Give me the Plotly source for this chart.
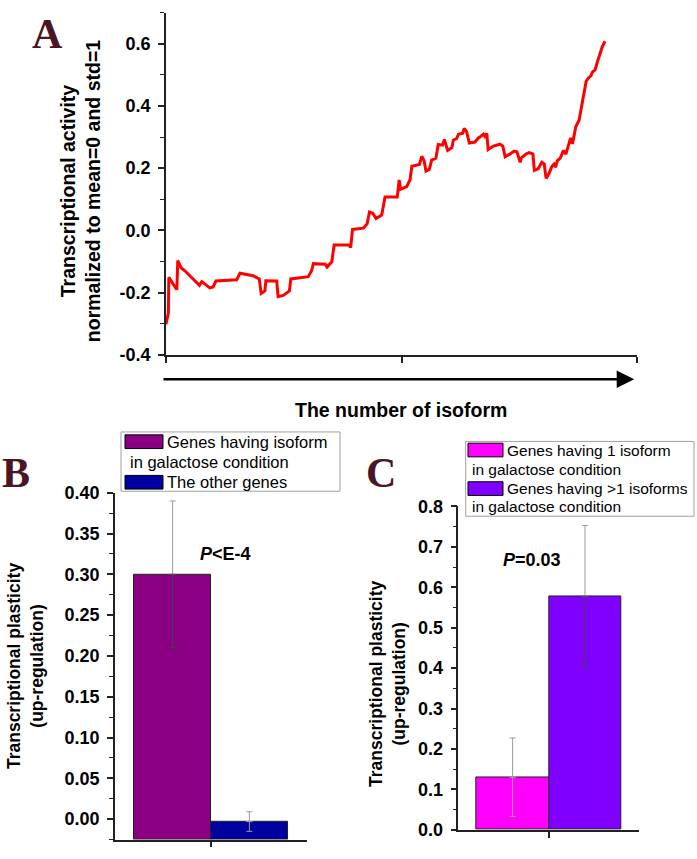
import plotly.graph_objects as go

# ---------------- data ----------------
# Panel A: transcriptional activity vs. isoform number (x in % of axis length)
A_X = [0, 0.5, 0.6, 1.9, 2.3, 2.5, 3.2, 4.0, 5.1, 5.8, 7.1, 7.6, 8.3, 9.3, 10.0, 10.4, 10.6,
       15.0, 15.7, 18.5, 19.8, 20.2, 21.0, 21.2, 23.5, 23.8, 24.9, 26.2, 26.5, 30.2, 30.9,
       31.3, 33.8, 34.2, 35.2, 35.7, 38.9, 39.2, 39.6, 41.9, 42.7, 43.2, 43.9, 44.6, 45.8,
       46.5, 49.1, 49.5, 49.8, 51.1, 51.8, 52.2, 53.8, 54.3, 54.8, 55.2, 55.9, 56.4, 57.3,
       57.8, 58.7, 59.1, 59.4, 59.8, 60.7, 61.0, 61.7, 62.1, 63.0, 63.3, 63.8, 64.4, 65.6,
       66.3, 66.8, 67.4, 67.7, 68.1, 68.4, 69.5, 70.9, 71.5, 72.0, 73.0, 73.9, 74.5, 75.2,
       75.5, 76.6, 77.1, 77.9, 78.2, 79.0, 79.8, 80.3, 80.7, 81.3, 81.9, 82.4, 82.7, 83.1,
       83.7, 84.4, 84.9, 85.4, 85.9, 86.3, 87.0, 87.7, 88.3, 88.7, 89.2, 89.7, 90.2, 90.6,
       91.1, 91.6, 92.1, 92.6, 93.2]
A_Y = [-0.302, -0.266, -0.151, -0.182, -0.191, -0.097, -0.120, -0.130, -0.146, -0.156, -0.177,
       -0.165, -0.174, -0.185, -0.182, -0.170, -0.163, -0.159, -0.138, -0.146, -0.156, -0.203,
       -0.195, -0.162, -0.163, -0.213, -0.209, -0.195, -0.156, -0.149, -0.130, -0.107, -0.109,
       -0.118, -0.101, -0.047, -0.047, -0.055, 0.003, 0.007, 0.021, 0.059, 0.055, 0.038, 0.049,
       0.107, 0.107, 0.162, 0.132, 0.141, 0.162, 0.206, 0.212, 0.238, 0.224, 0.191, 0.196,
       0.226, 0.232, 0.276, 0.274, 0.292, 0.276, 0.257, 0.266, 0.290, 0.295, 0.309, 0.312,
       0.328, 0.318, 0.281, 0.284, 0.297, 0.302, 0.309, 0.302, 0.312, 0.260, 0.271, 0.277,
       0.271, 0.237, 0.245, 0.255, 0.253, 0.219, 0.234, 0.247, 0.250, 0.245, 0.193, 0.198,
       0.219, 0.213, 0.167, 0.182, 0.205, 0.213, 0.203, 0.224, 0.232, 0.257, 0.245, 0.271,
       0.297, 0.278, 0.333, 0.354, 0.401, 0.438, 0.479, 0.490, 0.497, 0.510, 0.516, 0.542,
       0.568, 0.589, 0.608]
A_YTICKS = [-0.4, -0.2, 0.0, 0.2, 0.4, 0.6]
A_YTICKTEXT = ["-0.4", "-0.2", "0.0", "0.2", "0.4", "0.6"]

# Panel B
B_CATEGORIES = ["Genes having isoform in galactose condition", "The other genes"]
B_VALUES = [0.300, -0.003]
B_ERRORS = [0.090, 0.012]
B_YMIN, B_YMAX = -0.025, 0.40

# Panel C
C_CATEGORIES = ["Genes having 1 isoform in galactose condition",
                "Genes having >1 isoforms in galactose condition"]
C_VALUES = [0.130, 0.578]
C_ERRORS = [0.097, 0.175]
C_YMIN, C_YMAX = 0.0, 0.8

# ---------------- styling ----------------
W, H = 697, 859
FONT = "Liberation Sans, Arial, sans-serif"
SERIF = "Liberation Serif, Times New Roman, serif"
AXC = "#222222"
B_COLORS = ["#8B0083", "#0000A0"]
C_COLORS = ["#FF00FF", "#8000FF"]
B_MINUS_ERR = ["#444444", "#999999"]
C_MINUS_ERR = ["#999999", "#444444"]


def px(x):
    return x / W


def py(y):
    return 1 - y / H


fig = go.Figure()

# Panel A line
fig.add_trace(go.Scatter(x=A_X, y=A_Y, mode="lines", line=dict(color="#FF0000", width=3),
                         xaxis="x", yaxis="y", showlegend=False))


def add_bars(cats, vals, errs, colors, minus_cols, ymin, xa, ya):
    pos = [i + 1 for i in range(len(vals))]
    for i, (c, v, e) in enumerate(zip(cats, vals, errs)):
        fig.add_trace(go.Bar(x=[pos[i]], y=[v - ymin], base=[ymin], width=1, name=c,
                             marker=dict(color=colors[i], line=dict(color=AXC, width=1)),
                             xaxis=xa, yaxis=ya, showlegend=False))
    for i, (v, e) in enumerate(zip(vals, errs)):
        fig.add_trace(go.Scatter(x=[pos[i]], y=[v], mode="markers", marker=dict(size=1, opacity=0),
                                 error_y=dict(type="data", array=[e], arrayminus=[0], color="#9a9a9a",
                                              thickness=1, width=3),
                                 xaxis=xa, yaxis=ya, showlegend=False, hoverinfo="skip"))
        fig.add_trace(go.Scatter(x=[pos[i]], y=[v], mode="markers", marker=dict(size=1, opacity=0),
                                 error_y=dict(type="data", array=[0], arrayminus=[e], color=minus_cols[i],
                                              thickness=1, width=3),
                                 xaxis=xa, yaxis=ya, showlegend=False, hoverinfo="skip"))


add_bars(B_CATEGORIES, B_VALUES, B_ERRORS, B_COLORS, B_MINUS_ERR, B_YMIN, "x2", "y2")
add_bars(C_CATEGORIES, C_VALUES, C_ERRORS, C_COLORS, C_MINUS_ERR, C_YMIN, "x3", "y3")

tickfont = dict(family=FONT, size=18, color="#000", weight="bold")
common_y = dict(showline=True, linecolor=AXC, linewidth=1.5, ticks="outside", ticklen=6,
                tickwidth=1.5, tickcolor=AXC, showgrid=False, zeroline=False, tickfont=tickfont,
                ticklabelstandoff=4)
common_x = dict(showline=True, linecolor=AXC, linewidth=1.5, ticks="outside", ticklen=6,
                tickwidth=1.5, tickcolor=AXC, showgrid=False, zeroline=False, showticklabels=False)

fig.update_layout(
    width=W, height=H, margin=dict(l=0, r=0, t=0, b=0),
    paper_bgcolor="white", plot_bgcolor="white", showlegend=False,
    font=dict(family=FONT, color="#000"),
    bargap=0,
    xaxis=dict(domain=[px(166), px(637)], range=[0, 100], anchor="y", tickvals=[0, 50, 100], **common_x),
    yaxis=dict(domain=[py(353), py(2.7)], range=[-0.4, 0.7], anchor="x", tickvals=A_YTICKS,
               ticktext=A_YTICKTEXT,
               minor=dict(ticks="outside", ticklen=4, tickwidth=1.2, tickcolor=AXC, dtick=0.1, tick0=-0.4),
               **common_y),
    xaxis2=dict(domain=[px(115), px(307)], range=[0.25, 2.75], anchor="y2", tickvals=[1.5], **common_x),
    yaxis2=dict(domain=[py(849.3), py(494.3)], range=[B_YMIN, B_YMAX], anchor="x2", dtick=0.05, tick0=0,
                tickformat=".2f",
                minor=dict(ticks="outside", ticklen=4, tickwidth=1.2, tickcolor=AXC, dtick=0.025, tick0=0),
                **common_y),
    xaxis3=dict(domain=[px(458.3), px(639.3)], range=[0.25, 2.75], anchor="y3", tickvals=[1.5], **common_x),
    yaxis3=dict(domain=[py(839.3), py(508.3)], range=[C_YMIN, C_YMAX], anchor="x3", dtick=0.1, tick0=0,
                tickformat=".1f",
                minor=dict(ticks="outside", ticklen=4, tickwidth=1.2, tickcolor=AXC, dtick=0.05, tick0=0),
                **common_y),
)

ann = []
shapes = []


def text(x, y, t, size, bold=False, angle=0, xanchor="center", family=FONT, color="#000"):
    ann.append(dict(x=px(x), y=py(y), xref="paper", yref="paper", text=t, showarrow=False,
                    textangle=angle, xanchor=xanchor, yanchor="middle", borderpad=0,
                    font=dict(family=family, size=size, color=color, weight="bold" if bold else "normal")))


# panel letters
LETTER_COLOR = "#4a1525"
text(47.5, 25, "A", 42, True, family=SERIF, color=LETTER_COLOR)
text(15.5, 474, "B", 42, True, family=SERIF, color=LETTER_COLOR)
text(381, 474.5, "C", 42, True, family=SERIF, color=LETTER_COLOR)

# y titles
text(80, 185.5, "Transcriptional activity<br>normalized to mean=0 and std=1", 19.5, True, angle=-90)
text(25, 671.7, "Transcriptional plasticity<br>(up-regulation)", 17.5, True, angle=-90)
text(388, 690, "Transcriptional plasticity<br>(up-regulation)", 17.5, True, angle=-90)

# x title A and arrow
text(401, 410, "The number of isoform", 19.5, True)
ann.append(dict(x=99.4, y=py(378), xref="x", yref="paper", ax=-0.85, ay=0, axref="x", ayref="pixel",
                text="", showarrow=True, arrowhead=2, arrowsize=1.4, arrowwidth=2.5, arrowcolor="#000"))

# p-values
text(225, 557, "<i>P</i>&lt;E-4", 18, True)
text(532, 563.3, "<i>P</i>=0.03", 18, True)


def rect(x0, y0, x1, y1, fill, line="#000", lw=1):
    shapes.append(dict(type="rect", xref="paper", yref="paper", x0=px(x0), x1=px(x1), y0=py(y1), y1=py(y0),
                       fillcolor=fill, line=dict(color=line, width=lw), layer="above"))


# legend B
rect(121, 432, 340, 492.7, "white", line="#a0a0a0")
rect(125, 435, 163, 449, B_COLORS[0])
text(166, 442, "Genes having isoform", 16.5, xanchor="left")
text(128.7, 462.7, "in galactose condition", 16.5, xanchor="left")
rect(125, 476.5, 163, 490.5, B_COLORS[1])
text(166, 483.5, "The other genes", 16.5, xanchor="left")

# legend C
rect(465.7, 441.7, 694, 518.3, "white", line="#a0a0a0")
rect(468, 443.5, 503, 457.5, C_COLORS[0])
text(506, 451, "Genes having 1 isoform", 15.5, xanchor="left")
text(470.7, 470, "in galactose condition", 15.5, xanchor="left")
rect(468, 483, 503, 497, C_COLORS[1])
text(506, 490, "Genes having &gt;1 isoforms", 15.5, xanchor="left")
text(470.7, 508.3, "in galactose condition", 15.5, xanchor="left")

fig.update_layout(annotations=ann, shapes=shapes)
fig.write_html("out.html", config={"displayModeBar": False},
               post_script="document.body.style.margin='0';document.body.style.padding='0';")
